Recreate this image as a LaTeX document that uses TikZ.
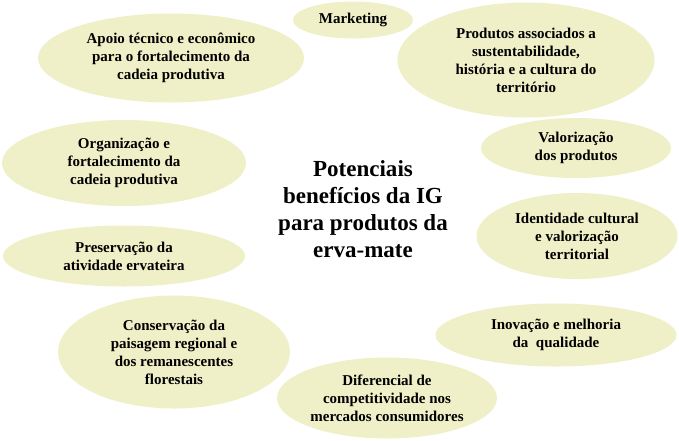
\documentclass[tikz,border=0pt]{standalone}
\usepackage{fontspec}
\setmainfont{Liberation Serif}
\usetikzlibrary{shapes.geometric}
\definecolor{bub}{RGB}{239,239,200}
\tikzset{
  bubble/.style={ellipse, fill=bub, draw=none, inner sep=0pt, align=center,
    font=\fontsize{15}{18}\selectfont\bfseries},
  core/.style={align=center, inner sep=0pt, font=\fontsize{23}{27}\selectfont\bfseries}
}
\begin{document}
\begin{tikzpicture}[x=1pt,y=-1pt]
\useasboundingbox (0,0) rectangle (679,440);
\node[bubble, minimum width=120pt, minimum height=37pt] (mkt) at (353,20) {Marketing};
\node[bubble, minimum width=266pt, minimum height=89pt] (apoio) at (171,58) {Apoio técnico e econômico\\para o fortalecimento da\\cadeia produtiva};
\node[bubble, minimum width=257pt, minimum height=115pt] (prod) at (526,60) {Produtos associados a\\sustentabilidade,\\história e a cultura do\\território};
\node[bubble, minimum width=244pt, minimum height=86pt] (org) at (124,163) {Organização e\\fortalecimento da\\cadeia produtiva};
\node[bubble, minimum width=190pt, minimum height=60pt] (val) at (576,148) {Valorização\\dos produtos};
\node[bubble, minimum width=201pt, minimum height=86pt] (ident) at (577,236) {Identidade cultural\\e valorização\\territorial};
\node[bubble, minimum width=242pt, minimum height=61pt] (pres) at (124,256) {Preservação da\\atividade ervateira};
\node[bubble, minimum width=232pt, minimum height=113pt] (cons) at (174,352) {Conservação da\\paisagem regional e\\dos remanescentes\\florestais};
\node[bubble, minimum width=241pt, minimum height=63pt] (inov) at (556,335) {Inovação e melhoria\\da\ \ qualidade};
\node[bubble, minimum width=220pt, minimum height=81pt] (dif) at (387,398) {Diferencial de\\competitividade nos\\mercados consumidores};
\node[core] (center) at (363,209) {Potenciais\\benefícios da IG\\para produtos da\\erva-mate};
\end{tikzpicture}
\end{document}
